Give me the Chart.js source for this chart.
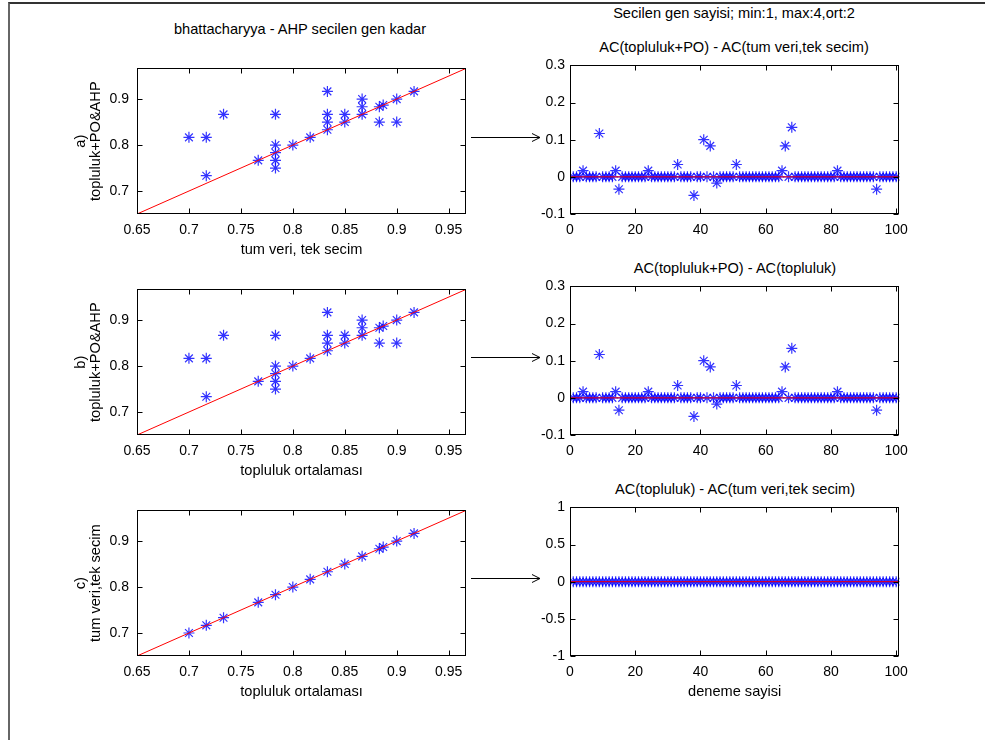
<!DOCTYPE html>
<html>
<head>
<meta charset="utf-8">
<script src="https://cdn.jsdelivr.net/npm/chart.js@4.4.1/dist/chart.umd.min.js"></script>
<style>
  body { margin: 0; background: #fff; width: 985px; height: 740px; position: relative; overflow: hidden;
         font-family: "Liberation Sans", Arial, sans-serif; }
  canvas { position: absolute; }
  .ttl { position: absolute; transform: translate(-50%, -50%); font-size: 14.6px; white-space: nowrap; color: #000; }
  #frame { position: absolute; left: 8px; top: 2px; width: 977px; height: 738px;
           border-left: 2px solid #666; border-top: 2px solid #333; }
  svg { position: absolute; left: 0; top: 0; }
</style>
</head>
<body>
<div id="frame"></div>
<div class="ttl" style="left:734px;top:13px">Secilen gen sayisi; min:1, max:4,ort:2</div>
<div class="ttl" style="left:300px;top:29px">bhattacharyya - AHP secilen gen kadar</div>
<div class="ttl" style="left:734px;top:47px">AC(topluluk+PO) - AC(tum veri,tek secim)</div>
<div class="ttl" style="left:735px;top:268px">AC(topluluk+PO) - AC(topluluk)</div>
<div class="ttl" style="left:735px;top:489px">AC(topluluk) - AC(tum veri,tek secim)</div>

<canvas id="c1" width="416" height="212" style="left:62px;top:52px"></canvas>
<canvas id="c2" width="386" height="212" style="left:530px;top:52px"></canvas>
<canvas id="c3" width="416" height="212" style="left:62px;top:273px"></canvas>
<canvas id="c4" width="386" height="212" style="left:530px;top:273px"></canvas>
<canvas id="c5" width="416" height="212" style="left:62px;top:494px"></canvas>
<canvas id="c6" width="386" height="212" style="left:530px;top:494px"></canvas>

<svg width="985" height="740">
  <g stroke="#000" stroke-width="1" fill="none">
    <path d="M471 137.5 H540 M532 133.5 L540 137.5 L532 141.5"/>
    <path d="M471 357.5 H540 M532 353.5 L540 357.5 L532 361.5"/>
    <path d="M471 578.5 H540 M532 574.5 L540 578.5 L532 582.5"/>
  </g>
</svg>

<script>
Chart.defaults.font.family = '"Liberation Sans", Arial, sans-serif';
Chart.defaults.font.size = 14;
Chart.defaults.color = '#000';

// --- data: one entry per distinct point in the scatter panels ---
// x: tum veri, tek secim (also equal to topluluk ortalamasi per trial)
const tumVeri = [0.7, 0.7167, 0.7167, 0.7333, 0.7667, 0.7833, 0.7833, 0.7833, 0.7833, 0.7833,
                 0.8, 0.8167, 0.8333, 0.8333, 0.8333, 0.8333, 0.85, 0.85, 0.8667, 0.8667,
                 0.8667, 0.8833, 0.887, 0.8833, 0.9, 0.9, 0.9167];
// y: topluluk+PO&AHP
const toplulukPO = [0.8167, 0.8167, 0.7333, 0.8667, 0.7667, 0.8667, 0.8, 0.7833, 0.7667, 0.75,
                    0.8, 0.8167, 0.9167, 0.8667, 0.85, 0.8333, 0.8667, 0.85, 0.9, 0.8833,
                    0.8667, 0.8833, 0.887, 0.85, 0.9, 0.85, 0.9167];
// bottom-left: topluluk ortalamasi vs tum veri, tek secim
const toplulukOrt = [0.7, 0.7167, 0.7333, 0.7667, 0.7833, 0.8, 0.8167, 0.8333, 0.85, 0.8667, 0.8833, 0.887, 0.9, 0.9167];
const tumVeriC    = [0.7, 0.7167, 0.7333, 0.7667, 0.7833, 0.8, 0.8167, 0.8333, 0.85, 0.8667, 0.8833, 0.887, 0.9, 0.9167];

// per-trial differences (deneme 1..100)
const diffPO = [
  0, 0, 0, 0.0167, 0, 0, 0, 0, 0.1167, 0,
  0, 0, 0, 0.0167, -0.0333, 0, 0, 0, 0, 0,
  0, 0, 0, 0.0167, 0, 0, 0, 0, 0, 0,
  0, 0, 0.0333, 0, 0, 0, 0, -0.05, 0, 0,
  0.1, 0, 0.0833, 0, -0.0167, 0, 0, 0, 0, 0,
  0.0333, 0, 0, 0, 0, 0, 0, 0, 0, 0,
  0, 0, 0, 0, 0.0167, 0.0833, 0, 0.1333, 0, 0,
  0, 0, 0, 0, 0, 0, 0, 0, 0, 0,
  0, 0.0167, 0, 0, 0, 0, 0, 0, 0, 0,
  0, 0, 0, -0.0333, 0, 0, 0, 0, 0, 0
];
const diffTopluluk = [
  0, 0, 0, 0, 0, 0, 0, 0, 0, 0,  0, 0, 0, 0, 0, 0, 0, 0, 0, 0,
  0, 0, 0, 0, 0, 0, 0, 0, 0, 0,  0, 0, 0, 0, 0, 0, 0, 0, 0, 0,
  0, 0, 0, 0, 0, 0, 0, 0, 0, 0,  0, 0, 0, 0, 0, 0, 0, 0, 0, 0,
  0, 0, 0, 0, 0, 0, 0, 0, 0, 0,  0, 0, 0, 0, 0, 0, 0, 0, 0, 0,
  0, 0, 0, 0, 0, 0, 0, 0, 0, 0,  0, 0, 0, 0, 0, 0, 0, 0, 0, 0
];

// axis limits and tick labels
const scatterRange = [0.65, 0.9667];
const scatterXTicks = [0.65, 0.7, 0.75, 0.8, 0.85, 0.9, 0.95];
const scatterYTicks = [0.7, 0.8, 0.9];
const trialRange = [0, 101];
const trialTicks = [0, 20, 40, 60, 80, 100];
const diffRange = [-0.1, 0.3];
const diffTicks = [-0.1, 0, 0.1, 0.2, 0.3];
const zeroRange = [-1, 1];
const zeroTicks = [-1, -0.5, 0, 0.5, 1];

// matlab-like box with inward ticks on all four sides
const boxPlugin = {
  id: 'boxPlugin',
  afterDraw(chart) {
    const { ctx, chartArea: a, scales: { x, y } } = chart;
    const L = Math.round(a.left) + 0.5, R = Math.round(a.right) - 0.5;
    const T = Math.round(a.top) + 0.5, B = Math.round(a.bottom) - 0.5;
    ctx.save();
    ctx.strokeStyle = '#000';
    ctx.lineWidth = 1;
    ctx.beginPath();
    x.ticks.forEach(t => {
      const px = Math.round(x.getPixelForValue(t.value)) + 0.5;
      ctx.moveTo(px, B); ctx.lineTo(px, B - 5);
      ctx.moveTo(px, T); ctx.lineTo(px, T + 5);
    });
    y.ticks.forEach(t => {
      const py = Math.round(y.getPixelForValue(t.value)) + 0.5;
      ctx.moveTo(L, py); ctx.lineTo(L + 5, py);
      ctx.moveTo(R, py); ctx.lineTo(R - 5, py);
    });
    ctx.stroke();
    ctx.strokeRect(L, T, R - L, B - T);
    ctx.restore();
  }
};

function axis(range, tickVals, size, isY, pad, title) {
  const cfg = {
    type: 'linear',
    min: range[0],
    max: range[1],
    grid: { display: false, drawTicks: false },
    border: { display: false },
    ticks: { padding: pad, autoSkip: false, maxRotation: 0, callback: v => String(v) },
    afterBuildTicks: s => { s.ticks = tickVals.map(v => ({ value: v })); },
    afterFit: s => { if (isY) s.width = size; else s.height = size; },
    title: { display: false }
  };
  if (title) {
    cfg.title = {
      display: true,
      text: title,
      font: { size: 14.6, lineHeight: 1 },
      padding: isY ? { top: 12, bottom: 0 } : { top: 0, bottom: 7 }
    };
  }
  return cfg;
}

function baseOptions(xAxis, yAxis, rightPad) {
  return {
    responsive: false,
    animation: false,
    devicePixelRatio: 1,
    layout: { padding: { top: 10, right: rightPad, left: 0, bottom: 0 } },
    scales: { x: xAxis, y: yAxis },
    plugins: { legend: { display: false }, tooltip: { enabled: false }, title: { display: false } }
  };
}

function starSet(points) {
  return {
    data: points,
    pointStyle: 'star',
    pointRadius: 5.5,
    borderColor: 'rgba(0,0,255,0.8)',
    backgroundColor: '#0000ff',
    borderWidth: 1.2,
    showLine: false
  };
}

function redLine(points) {
  return { data: points, showLine: true, borderColor: '#ff0000', borderWidth: 1, pointRadius: 0, fill: false };
}

function scatterPanel(id, xs, ys, xTitle, yTitle) {
  new Chart(document.getElementById(id), {
    type: 'scatter',
    data: {
      datasets: [
        redLine(scatterRange.map(v => ({ x: v, y: v }))),
        starSet(xs.map((v, i) => ({ x: v, y: ys[i] })))
      ]
    },
    options: baseOptions(
      axis(scatterRange, scatterXTicks, 50, false, 8, xTitle),
      axis(scatterRange, scatterYTicks, 75, true, 8, yTitle),
      12),
    plugins: [boxPlugin]
  });
}

function diffPanel(id, vals, yRange, yTicks, xTitle) {
  new Chart(document.getElementById(id), {
    type: 'scatter',
    data: {
      datasets: [
        redLine(trialRange.map(v => ({ x: v, y: 0 }))),
        starSet(vals.map((v, i) => ({ x: i + 1, y: v })))
      ]
    },
    options: baseOptions(
      axis(trialRange, trialTicks, 50, false, 8, xTitle),
      axis(yRange, yTicks, 40, true, 5, null),
      15),
    plugins: [boxPlugin]
  });
}

scatterPanel('c1', tumVeri, toplulukPO, 'tum veri, tek secim', ['a)', 'topluluk+PO&AHP']);
diffPanel('c2', diffPO, diffRange, diffTicks, null);
scatterPanel('c3', tumVeri, toplulukPO, 'topluluk ortalaması', ['b)', 'topluluk+PO&AHP']);
diffPanel('c4', diffPO, diffRange, diffTicks, null);
scatterPanel('c5', toplulukOrt, tumVeriC, 'topluluk ortalaması', ['c)', 'tum veri,tek secim']);
diffPanel('c6', diffTopluluk, zeroRange, zeroTicks, 'deneme sayisi');
</script>
</body>
</html>
